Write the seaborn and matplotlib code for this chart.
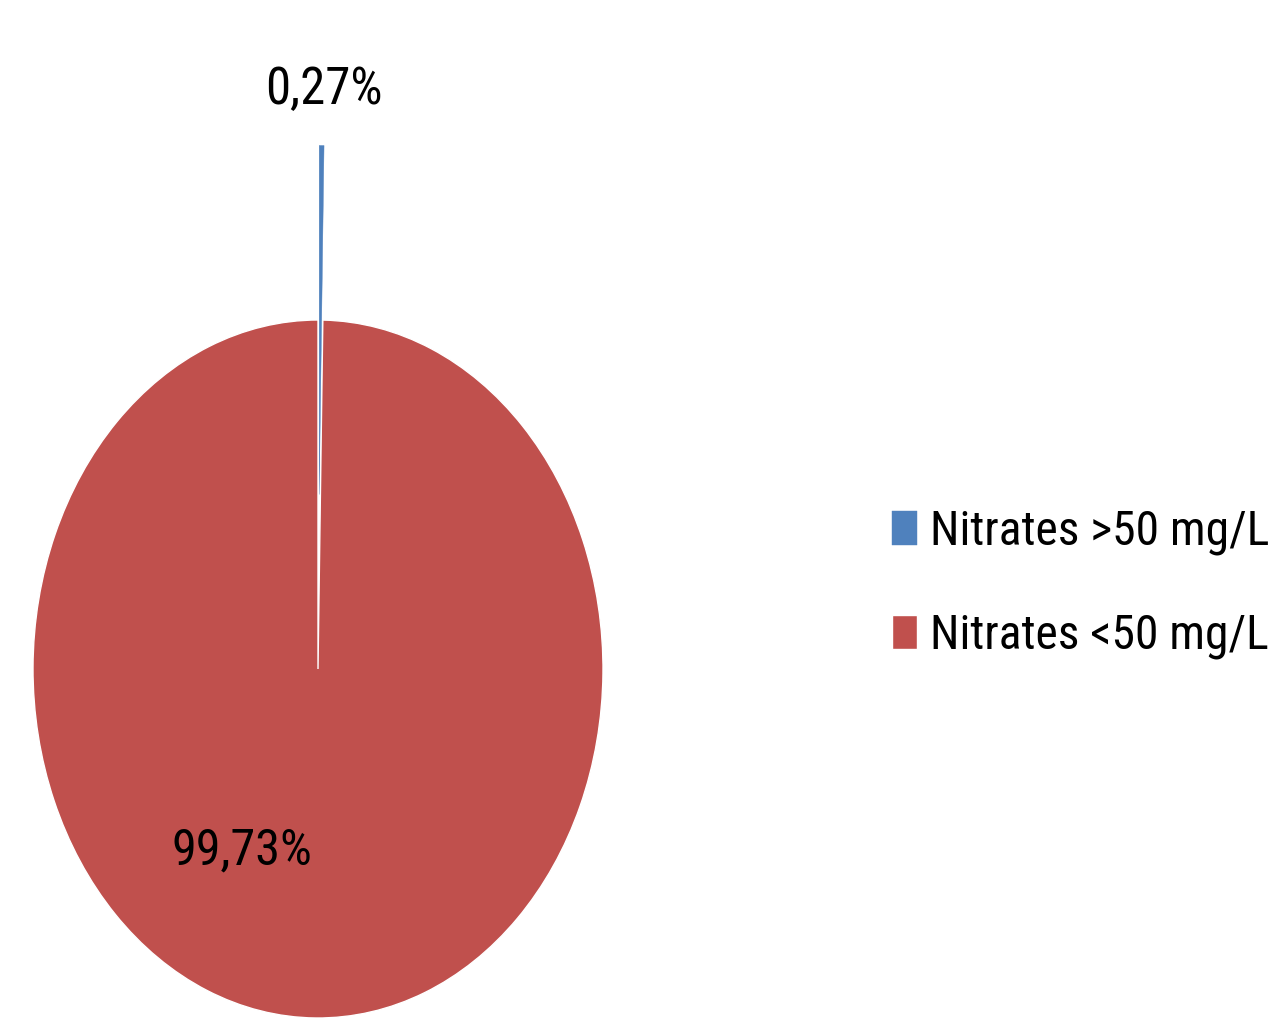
import matplotlib
matplotlib.use("Agg")
import matplotlib.pyplot as plt
from matplotlib import font_manager
import seaborn as sns

categories = ["Nitrates >50 mg/L", "Nitrates <50 mg/L"]
values = [0.27, 99.73]
colors = ["#4F81BD", "#C0504D"]
explode = [0.5, 0.0]

sns.set_theme(style="white")
available = {f.name for f in font_manager.fontManager.ttflist}
family = 'DejaVu Sans'
for cand in ['Liberation Sans Narrow', 'Roboto Condensed', 'Open Sans Condensed',
             'Noto Sans Condensed', 'DejaVu Sans Condensed', 'Lato']:
    if cand in available:
        family = cand
        break
plt.rcParams['font.family'] = [family, 'DejaVu Sans']

DPI = 100
fig = plt.figure(figsize=(12.73, 10.33), dpi=DPI)
W, H = 1273, 1033
ax = fig.add_axes([33 / W, (H - 1018) / H, 570 / W, 698 / H])

wedges, _ = ax.pie(values, colors=colors, explode=explode, startangle=90,
                   counterclock=False, radius=1.0,
                   wedgeprops=dict(edgecolor="white", linewidth=1.0))
wedges[0].set_edgecolor(colors[0])
wedges[0].set_linewidth(0.3)
wedges[1].set_zorder(1)
wedges[0].set_zorder(2)
ax.set_aspect('auto')
ax.set_xlim(-1, 1)
ax.set_ylim(-1, 1)
ax.axis('off')

def fmt(v):
    return f"{v:.2f}".replace(".", ",") + "%"

renderer = fig.canvas.get_renderer()

def fit(t, target_px):
    w = t.get_window_extent(renderer).width
    t.set_fontsize(t.get_fontsize() * target_px / w)

label_pos = [(0.02, 1.66), (-0.267, -0.52)]
label_w = [117, 141]
for v, (x, y), tw in zip(values, label_pos, label_w):
    t = ax.text(x, y, fmt(v), ha='center', va='center', fontsize=30,
                color='black', clip_on=False)
    fit(t, tw)

probe = fig.text(0, 0, categories[0], fontsize=30)
w = probe.get_window_extent(renderer).width
leg_fs = 30 * 340 / w
probe.remove()
fs_px = leg_fs * DPI / 72

# target: handle box left 892, width 25, height 33; text starts 928; row centres 528 and 632
def make_legend(spacing, anchor):
    return fig.legend(wedges, categories, loc='upper left',
                      bbox_to_anchor=anchor, frameon=False,
                      fontsize=leg_fs, handlelength=25 / fs_px, handleheight=33 / fs_px,
                      handletextpad=13 / fs_px, labelspacing=spacing,
                      borderpad=0, borderaxespad=0, labelcolor='black')

spacing = 1.0
anchor = (892 / W, 1 - 505 / H)
leg = make_legend(spacing, anchor)
for _ in range(3):
    fig.canvas.draw()
    hb = [h.get_window_extent(renderer) for h in leg.legend_handles]
    c0 = H - (hb[0].y0 + hb[0].y1) / 2
    c1 = H - (hb[1].y0 + hb[1].y1) / 2
    x0 = hb[0].x0
    spacing += ((632 - 528) - (c1 - c0)) / fs_px
    anchor = (anchor[0] + (892 - x0) / W, anchor[1] - (528 - c0) / H)
    leg.remove()
    leg = make_legend(spacing, anchor)

fig.savefig("out.png", dpi=DPI)
